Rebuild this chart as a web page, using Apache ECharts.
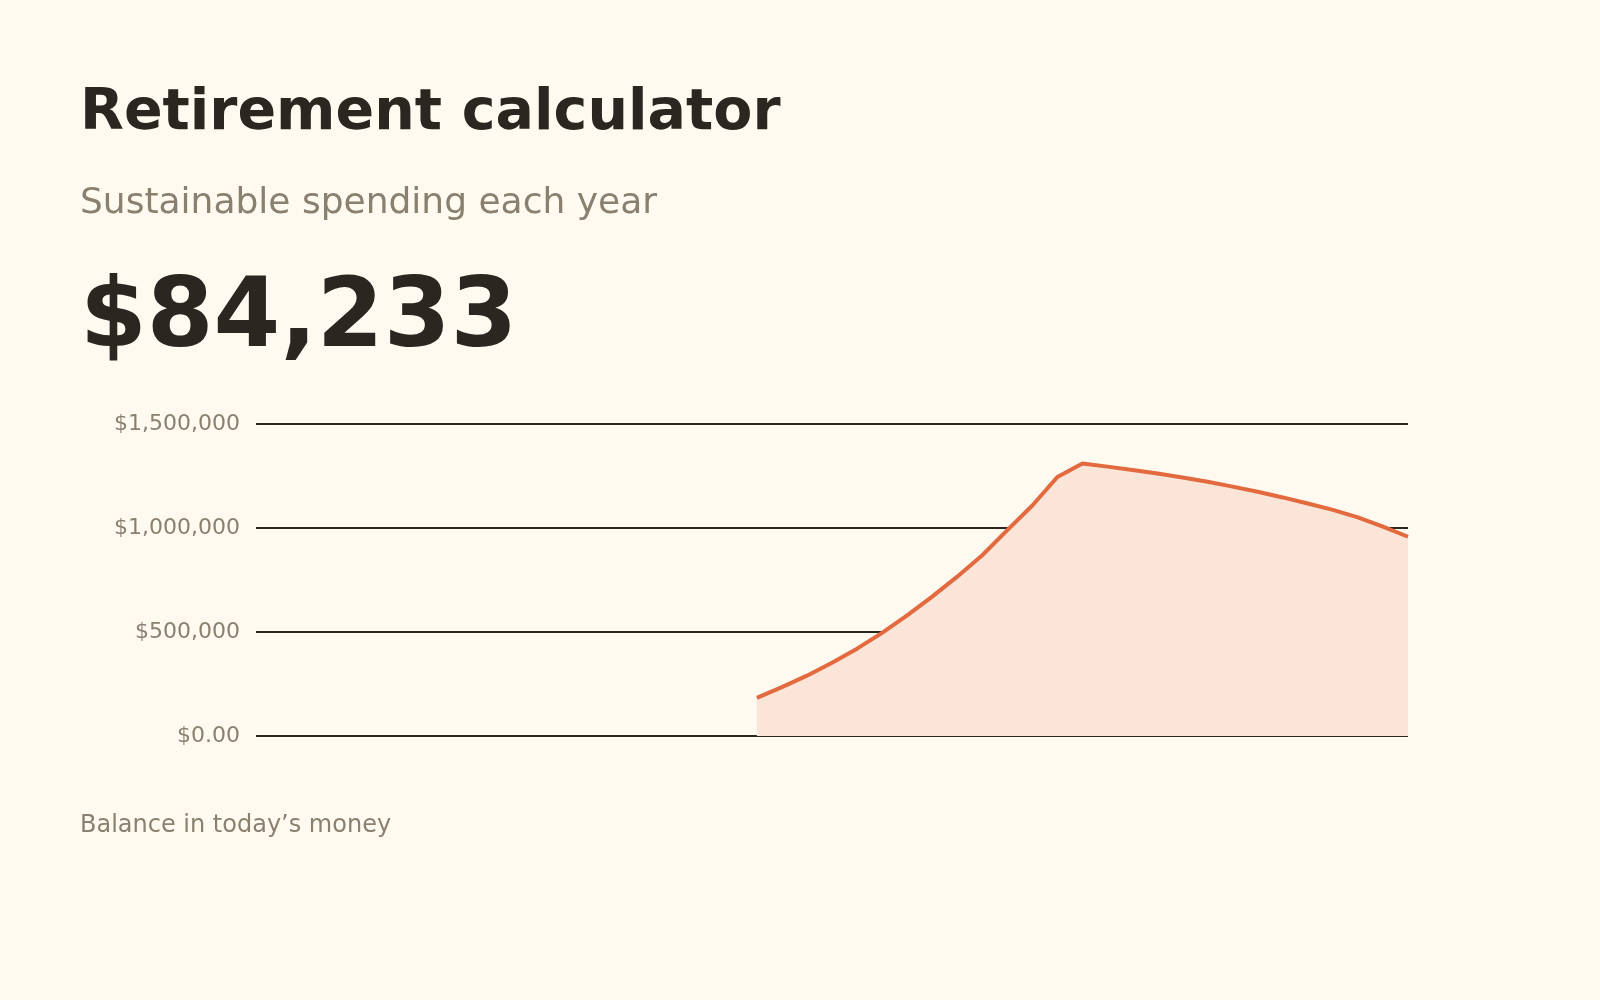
<!DOCTYPE html>
<html>
<head>
<meta charset="UTF-8">
<title>Retirement calculator</title>
<script src="https://cdn.jsdelivr.net/npm/echarts@6/dist/echarts.min.js"></script>
<style>
  html, body { margin: 0; padding: 0; background: #fffaf0; }
  #chart { width: 1600px; height: 1000px; }
</style>
</head>
<body>
<div id="chart"></div>
<script>
// years on the x axis (no labels shown); balance is empty until year 20
var years = [0, 1, 2, 3, 4, 5, 6, 7, 8, 9, 10, 11, 12, 13, 14, 15, 16, 17, 18, 19,
  20, 21, 22, 23, 24, 25, 26, 27, 28, 29, 30, 31, 32, 33, 34, 35, 36, 37, 38, 39,
  40, 41, 42, 43, 44, 45, 46];
var balance = [null, null, null, null, null, null, null, null, null, null,
  null, null, null, null, null, null, null, null, null, null,
  183000, 235000, 290000, 352000, 420000, 496000, 580000, 670000, 766000, 869000,
  990000, 1108000, 1245000, 1310000, 1295000, 1279000, 1262000, 1243000, 1222000, 1199000,
  1174000, 1147000, 1118000, 1087000, 1051000, 1007000, 958000];
var yTicks = [0, 500000, 1000000, 1500000];
var yTickLabels = ['$0.00', '$500,000', '$1,000,000', '$1,500,000'];

var titleText = 'Retirement calculator';
var subtitleText = 'Sustainable spending each year';
var headlineValue = '$84,233';
var footerText = 'Balance in today\u2019s money';

var ink = '#2a2620';
var muted = '#8a8070';
var accent = '#e3693e';
var font = '"DejaVu Sans", sans-serif';

var chart = echarts.init(document.getElementById('chart'));

var option = {
  backgroundColor: '#fffaf0',
  animation: false,
  graphic: [
    { type: 'text', x: 80, y: 114, style: { text: titleText, font: 'bold 57px ' + font, fill: ink, verticalAlign: 'middle' } },
    { type: 'text', x: 80, y: 203.6, style: { text: subtitleText, font: '36px ' + font, fill: muted, verticalAlign: 'middle' } },
    { type: 'text', x: 80, y: 321, style: { text: headlineValue, font: 'bold 96px ' + font, fill: ink, verticalAlign: 'middle' } },
    { type: 'text', x: 80, y: 825.5, style: { text: footerText, font: '24px ' + font, fill: muted, verticalAlign: 'middle' } }
  ],
  grid: { left: 256, top: 424, width: 1152, height: 312 },
  xAxis: {
    type: 'category',
    data: years,
    boundaryGap: false,
    axisLine: { show: false },
    axisTick: { show: false },
    axisLabel: { show: false },
    splitLine: { show: false }
  },
  yAxis: {
    type: 'value',
    min: 0,
    max: 1500000,
    interval: 500000,
    axisLine: { show: false },
    axisTick: { show: false },
    axisLabel: {
      margin: 16,
      padding: [2, 0, 0, 0],
      fontFamily: 'DejaVu Sans',
      fontSize: 22,
      color: muted,
      formatter: function (v) {
        var i = yTicks.indexOf(v);
        return i >= 0 ? yTickLabels[i] : '';
      }
    },
    splitLine: { lineStyle: { color: ink, width: 2 } }
  },
  series: [{
    type: 'line',
    data: balance,
    symbol: 'none',
    lineStyle: { color: accent, width: 4 },
    areaStyle: { color: '#fbe5d8', opacity: 1 },
    z: 3
  }]
};

chart.setOption(option);
</script>
</body>
</html>
